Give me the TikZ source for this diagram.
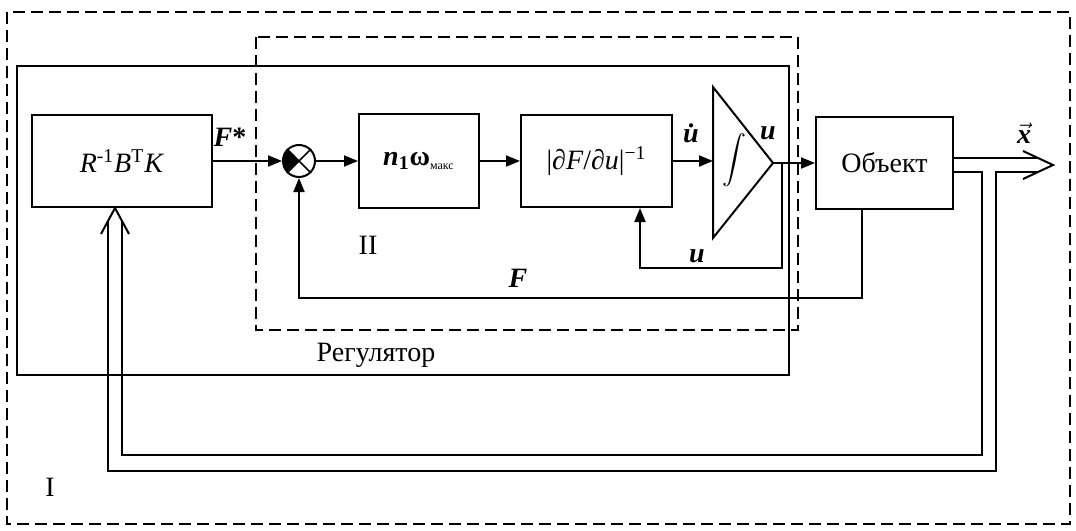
\documentclass[tikz,border=0pt]{standalone}
\usepackage{amsmath}
\usepackage{fontspec}
\setmainfont{Liberation Serif}
\usetikzlibrary{arrows.meta, positioning}

\begin{document}
\begin{tikzpicture}[x=0.5pt, y=-0.5pt, >={Triangle[length=7pt, width=5.5pt]},
    font=\fontsize{14}{16}\selectfont,
    blk/.style={draw, line width=1pt, inner sep=0pt},
    sig/.style={line width=1pt},
    frame/.style={line width=0.9pt, dash pattern=on 6pt off 3pt}]

    \useasboundingbox (0,0) rectangle (1076,530);

    % --- frames I and II, regulator ---
    \draw[frame] (7,12) rectangle (1070,524);
    \draw[frame] (256,37) rectangle (798,330);
    \draw[sig] (17,66) rectangle (789,375);
    \node (lab1) at (50,487) {I};
    \node (lab2) at (368,245) {II};
    \node (reglab) at (376,355) {Регулятор};

    % --- blocks ---
    \node[blk, minimum width=90pt, minimum height=46pt] (gain) at (122,161)
        {\textit{R}\textsuperscript{-1}\textit{B}\textsuperscript{T}\textit{K}};
    \node[draw, circle, line width=1pt, minimum size=16pt, inner sep=0pt] (sum) at (299,161) {};
    \node[blk, minimum width=60pt, minimum height=47pt] (nom) at (419,161)
        {\textbf{\textit{n}}\textsubscript{\textbf{1}}\textbf{ω}\textsubscript{\fontsize{6}{6}\selectfont макс}};
    \node[blk, minimum width=75.5pt, minimum height=46pt] (dfu) at (596.5,161)
        {|\textit{∂F}/\textit{∂u}|\textsuperscript{−1}};
    \node[blk, minimum width=68.5pt, minimum height=46pt] (obj) at (884.5,163) {Объект};

    % summing junction
    \fill (sum.center) -- (sum.135) arc[start angle=135, end angle=225, radius=8pt] -- cycle;
    \draw[line width=0.8pt] (sum.45) -- (sum.225) (sum.135) -- (sum.315);

    % integrator
    \coordinate (itop) at (713,87);
    \coordinate (ibot) at (713,238);
    \coordinate (iout) at (773,163);
    \draw[sig] (itop) -- (iout) -- (ibot) -- cycle;
    \node (intg) at (734,160) {\fontsize{12}{14}\selectfont$\displaystyle\int$};

    % --- forward path ---
    \draw[sig, ->] (gain.east) -- (sum.west);
    \draw[sig, ->] (sum.east) -- (nom.west);
    \draw[sig, ->] (nom.east) -- (dfu.west);
    \draw[sig, ->] (dfu.east) -- (dfu.east -| itop);
    \draw[sig, ->] (iout) -- (obj.west);
    \node (fstar) at (230,137) {\textbf{\textit{F}*}};
    \node (udot) at (693,133) {\textbf{\textit{\.u}}};
    \node (uout) at (768,133) {\textbf{\textit{u}}};

    % --- inner feedbacks ---
    \coordinate (ubr) at (782,163);
    \draw[sig, ->] (ubr) -- ++(0,105) -| ([xshift=21.75pt]dfu.south);
    \node (ufb) at (697,256) {\textbf{\textit{u}}};
    \draw[sig, ->] ([xshift=23.5pt]obj.south west) -- ++(0,88) -| (sum.south);
    \node (flab) at (518,278) {\textbf{\textit{F}}};

    % --- state vector x (double line) ---
    \coordinate (xtip) at (1053,165);
    \coordinate (ktip) at ([xshift=-3.5pt]gain.south);
    \draw[sig] ([yshift=2.5pt]obj.east) -- ++(85,0);
    \draw[sig] ([yshift=-4.5pt]obj.east) -| (982,455) -| (122,219.5);
    \draw[sig] (1038,172) -| (996,471) -| (108,219.5);
    \draw[sig] (1023,151) -- (xtip) -- (1023,179);
    \draw[sig] (101,234) -- (ktip) -- (129,234);
    \node (xvec) at (1024,133) {$\vec{\mbox{\bfseries\itshape x}}$};

\end{tikzpicture}
\end{document}
